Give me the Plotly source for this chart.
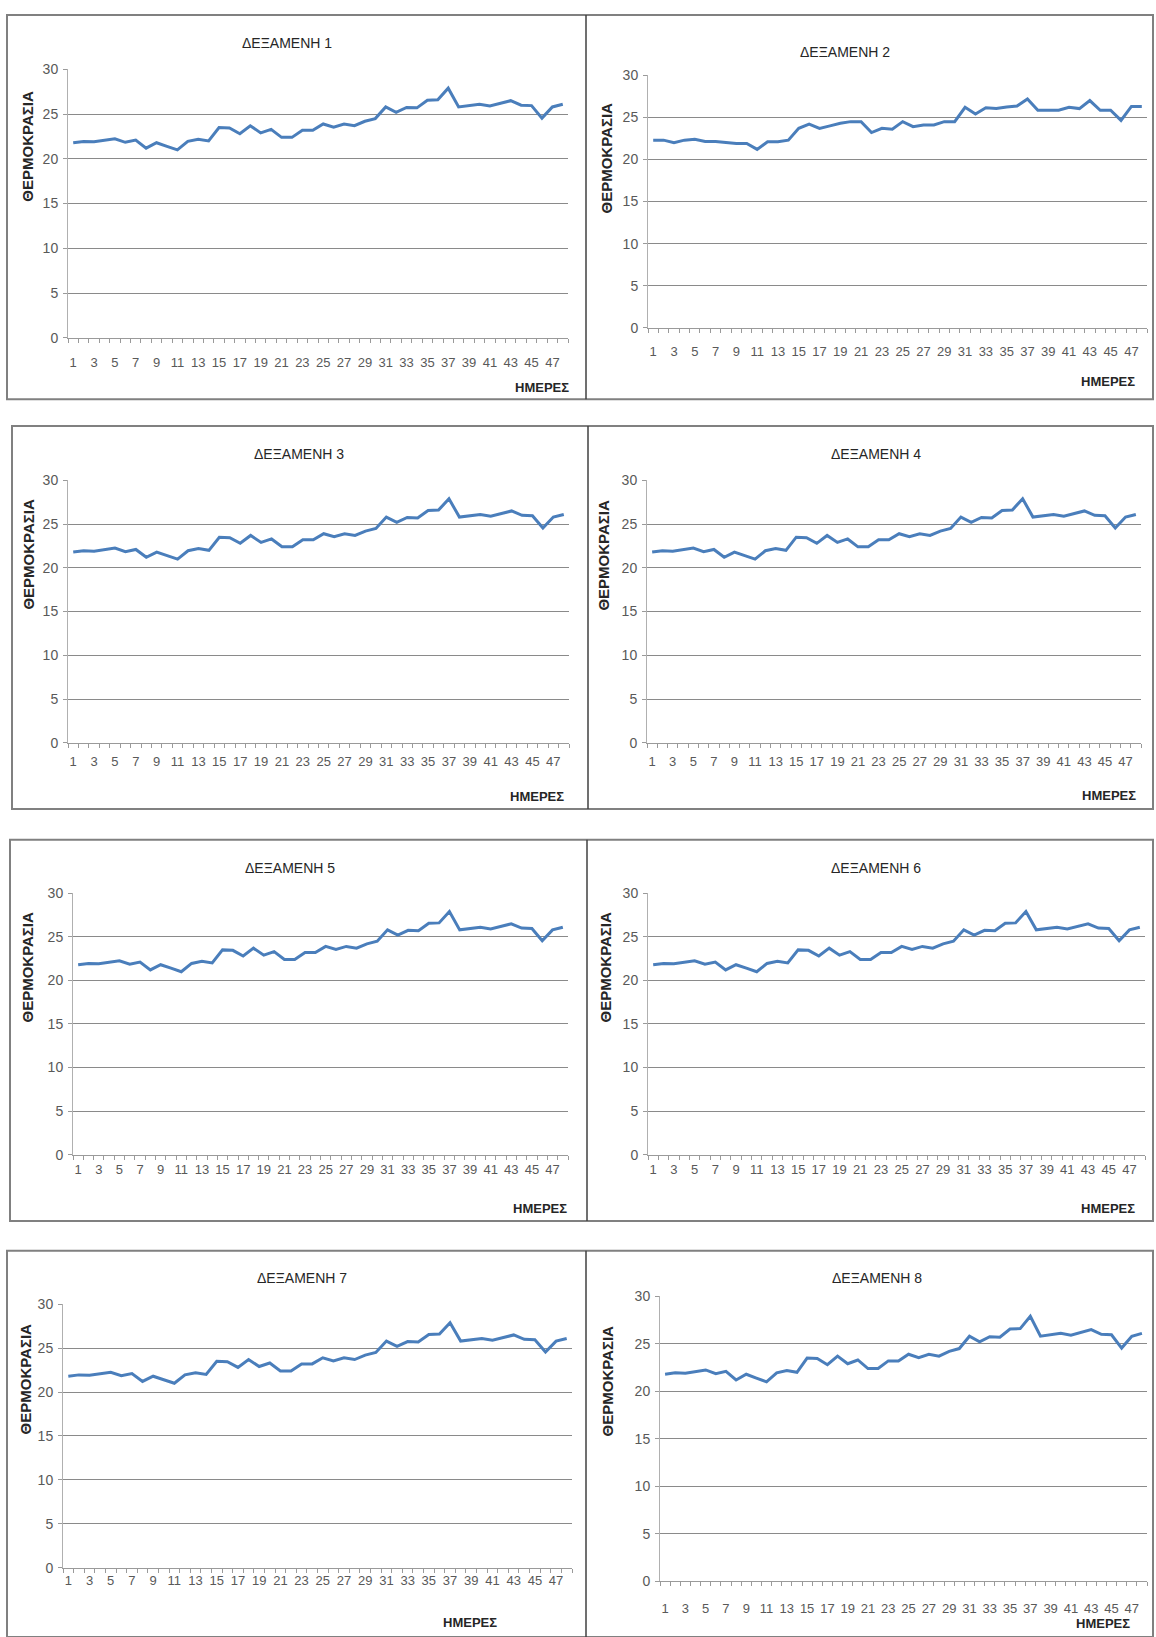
import plotly.graph_objects as go

W, H = 1156, 1637

days = list(range(1, 49))

tank1 = [21.8, 21.95, 21.9, 22.1, 22.25, 21.85, 22.1, 21.2, 21.8, 21.4,
         21.0, 21.95, 22.2, 22.0, 23.5, 23.45, 22.8, 23.7, 22.9, 23.3,
         22.4, 22.4, 23.2, 23.2, 23.9, 23.55, 23.9, 23.7, 24.2, 24.5,
         25.8, 25.2, 25.75, 25.7, 26.55, 26.6, 27.9, 25.8, 25.95, 26.1,
         25.9, 26.2, 26.5, 26.0, 25.95, 24.55, 25.8, 26.1]

tank2 = [22.3, 22.3, 22.0, 22.3, 22.4, 22.15, 22.15, 22.0, 21.9, 21.9,
         21.2, 22.1, 22.1, 22.3, 23.7, 24.2, 23.7, 24.0, 24.3, 24.5,
         24.5, 23.2, 23.7, 23.6, 24.5, 23.9, 24.1, 24.1, 24.5, 24.5,
         26.2, 25.4, 26.15, 26.05, 26.25, 26.35, 27.2, 25.85, 25.85, 25.85,
         26.2, 26.05, 27.0, 25.85, 25.85, 24.65, 26.3, 26.3]

tank3 = list(tank1)
tank4 = list(tank1)
tank5 = list(tank1)
tank6 = list(tank1)
tank7 = list(tank1)
tank8 = list(tank1)

titles = ["ΔΕΞΑΜΕΝΗ 1", "ΔΕΞΑΜΕΝΗ 2", "ΔΕΞΑΜΕΝΗ 3", "ΔΕΞΑΜΕΝΗ 4",
          "ΔΕΞΑΜΕΝΗ 5", "ΔΕΞΑΜΕΝΗ 6", "ΔΕΞΑΜΕΝΗ 7", "ΔΕΞΑΜΕΝΗ 8"]
y_title = "ΘΕΡΜΟΚΡΑΣΙΑ"
x_title = "ΗΜΕΡΕΣ"
y_ticks = [0, 5, 10, 15, 20, 25, 30]
x_ticks = list(range(1, 48, 2))

series = [tank1, tank2, tank3, tank4, tank5, tank6, tank7, tank8]

# plot areas in pixels: x0, x1, ytop, ybottom
plots = [
    (68, 568, 62, 333),
    (648, 1147, 68, 323),
    (68, 569, 477, 742),
    (647, 1141, 477, 742),
    (73, 568, 894, 1158),
    (648, 1145, 894, 1158),
    (63, 572, 1309, 1575),
    (660, 1147, 1301, 1589),
]
xlab_standoff = [13, 12, 7, 7, 3, 3, 1, 15]
title_pos = [(287, 35), (845, 44), (299, 450), (876, 450),
             (290, 868), (876, 868), (302, 1283), (877, 1283)]
ytitle_pos = [(28, 140), (607, 152), (29, 552), (604, 553),
              (28, 969), (606, 969), (25, 1385), (607, 1387)]
xtitle_pos = [(542, 383), (1108, 377), (537, 796), (1109, 795),
              (540, 1212), (1108, 1212), (470, 1630), (1103, 1631)]
boxes = [(7, 7, 1153, 395, 586), (12, 422, 1153, 809, 588),
         (10, 840, 1153, 1225, 587), (7, 1255, 1153, 1645, 586)]

FONT = "Liberation Sans, Arial, sans-serif"
TICKC = "#595959"
GRIDC = "#8a8a8a"
LINEC = "#4A7EBB"

fig = go.Figure()
layout = dict(
    width=W, height=H, margin=dict(l=0, r=0, t=0, b=0),
    paper_bgcolor="white", plot_bgcolor="white", showlegend=False,
    font=dict(family=FONT, size=12, color=TICKC),
)

def px(x):
    return x / W

def py(y):
    return 1 - y / H

annotations = []
shapes = []
for i, (vals, (x0, x1, yt, yb)) in enumerate(zip(series, plots)):
    n = i + 1
    xa = "x" if n == 1 else f"x{n}"
    ya = "y" if n == 1 else f"y{n}"
    fig.add_trace(go.Scatter(x=days, y=vals, mode="lines", xaxis=xa, yaxis=ya,
                             line=dict(color=LINEC, width=3), hoverinfo="skip"))
    layout["xaxis" if n == 1 else f"xaxis{n}"] = dict(
        domain=[px(x0), px(x1)], anchor=ya, range=[0.5, 48.5],
        tickmode="array", tickvals=x_ticks, ticktext=[str(t) for t in x_ticks],
        ticks="", showgrid=False, zeroline=False,
        showline=True, linecolor="#9a9a9a", linewidth=1,
        tickfont=dict(size=13, color=TICKC, family=FONT),
        ticklabelstandoff=xlab_standoff[i],
        minor=dict(tickmode="linear", tick0=0.5, dtick=1, ticks="outside",
                   ticklen=4, tickcolor="#9a9a9a", tickwidth=1, showgrid=False),
        fixedrange=True,
    )
    layout["yaxis" if n == 1 else f"yaxis{n}"] = dict(
        domain=[py(yb), py(yt)], anchor=xa, range=[0, 30],
        tickmode="array", tickvals=y_ticks,
        ticks="outside", ticklen=4, tickcolor="#9a9a9a",
        showgrid=True, gridcolor=GRIDC, gridwidth=1, zeroline=False,
        showline=True, linecolor="#b0b0b0", linewidth=1,
        tickfont=dict(size=14, color=TICKC, family=FONT),
        ticklabelstandoff=2,
        fixedrange=True,
    )
    tx, ty = title_pos[i]
    annotations.append(dict(text=titles[i], x=px(tx), y=py(ty), xref="paper", yref="paper",
                            showarrow=False, xanchor="center", yanchor="middle",
                            font=dict(size=14, color="#262626", family=FONT)))
    yx, yy = ytitle_pos[i]
    annotations.append(dict(text=f"<b>{y_title}</b>", x=px(yx), y=py(yy), xref="paper", yref="paper",
                            showarrow=False, textangle=-90, xanchor="center", yanchor="middle",
                            font=dict(size=15, color="#262626", family=FONT)))
    hx, hy = xtitle_pos[i]
    annotations.append(dict(text=f"<b>{x_title}</b>", x=px(hx), y=py(hy), xref="paper", yref="paper",
                            showarrow=False, xanchor="center", yanchor="middle",
                            font=dict(size=13, color="#262626", family=FONT)))

for (bx0, by0, bx1, by1, dv) in boxes:
    shapes.append(dict(type="rect", xref="paper", yref="paper",
                       x0=px(bx0), x1=px(bx1), y0=py(by1), y1=py(by0),
                       line=dict(color="#808080", width=2), fillcolor="rgba(0,0,0,0)", layer="below"))
    shapes.append(dict(type="line", xref="paper", yref="paper",
                       x0=px(dv), x1=px(dv), y0=py(by1), y1=py(by0),
                       line=dict(color="#404040", width=1.5)))

layout["annotations"] = annotations
layout["shapes"] = shapes
fig.update_layout(**layout)

fig.write_html("out.html", config={"displayModeBar": False, "responsive": False},
               post_script="document.body.style.margin='0';")
